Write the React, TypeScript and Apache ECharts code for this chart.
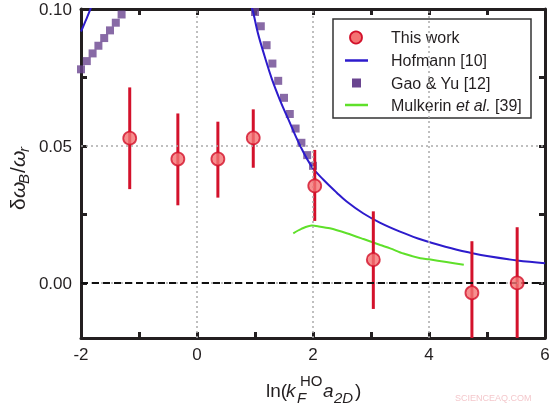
import React, { useEffect, useRef } from "react";
import * as echarts from "echarts";

// ---- Data ----
const pointX = [-1.16, -0.33, 0.36, 0.97, 2.03, 3.04, 4.74, 5.52];
const pointY = [0.0529, 0.0453, 0.0453, 0.053, 0.0355, 0.0086, -0.0035, 0.0001];
const errLow = [0.0343, 0.0284, 0.0312, 0.0421, 0.0227, -0.0094, -0.025, -0.025];
const errHigh = [0.0714, 0.0619, 0.0589, 0.0634, 0.0486, 0.0262, 0.0153, 0.0204];

const hofLeftX = [-2.0, -1.95, -1.9, -1.85, -1.8];
const hofLeftY = [0.0918, 0.0942, 0.0967, 0.0993, 0.1022];
const hofRightX = [0.92, 0.96, 1.05, 1.17, 1.29, 1.43, 1.57, 1.77, 1.98, 2.18, 2.41, 2.58, 2.87, 3.16, 3.5, 3.85, 4.0, 4.48, 4.71, 5.0, 5.52, 6.0];
const hofRightY = [0.1015, 0.0995, 0.0912, 0.0825, 0.0745, 0.0668, 0.06, 0.0505, 0.0425, 0.0377, 0.033, 0.0298, 0.0254, 0.022, 0.0188, 0.016, 0.015, 0.0122, 0.0111, 0.0099, 0.0083, 0.0073];

const gaoX = [-2.0, -1.9, -1.8, -1.7, -1.6, -1.5, -1.4, -1.3, 1.0, 1.1, 1.2, 1.3, 1.4, 1.5, 1.6, 1.7, 1.8, 1.9, 2.0];
const gaoY = [0.078, 0.081, 0.0838, 0.0866, 0.0894, 0.0922, 0.095, 0.098, 0.0989, 0.0937, 0.0868, 0.0801, 0.0738, 0.0676, 0.0617, 0.0564, 0.0512, 0.0467, 0.0428];

const mulX = [1.66, 1.8, 1.98, 2.1, 2.29, 2.58, 2.87, 3.16, 3.33, 3.56, 3.85, 4.0, 4.3, 4.6];
const mulY = [0.0182, 0.0198, 0.021, 0.0207, 0.02, 0.0182, 0.0161, 0.0139, 0.0127, 0.0108, 0.0091, 0.0087, 0.0077, 0.0067];

const xTicks = [-2, -1, 0, 1, 2, 3, 4, 5, 6];
const xLabels = [-2, 0, 2, 4, 6];
const yTicks = [0, 0.025, 0.05, 0.075, 0.1];
const yLabels = [0, 0.05, 0.1];
const gridX = [0, 2, 4];
const gridY = [0, 0.05];

const legendNames = ["This work", "Hofmann [10]", "Gao & Yu [12]", "Mulkerin et al. [39]"];

const FONT = "'Liberation Sans', Arial, sans-serif";
const INK = "#231f20";
const RED = "#d3112b";
const RED_FILL = "#f47373";
const BLUE = "#2d1bcc";
const PURPLE = "#6a4590";
const GREEN = "#5fe02a";

const zip = (a: number[], b: number[]) => a.map((v, i) => [v, b[i]]);

export default function App() {
  const ref = useRef<HTMLDivElement>(null);
  useEffect(() => {
    if (!ref.current) return;
    const chart = echarts.init(ref.current, null, { renderer: "svg" });

    const axisCommon = {
      axisLine: { show: true, onZero: false, lineStyle: { color: INK, width: 3 } },
      splitLine: { show: false },
    };

    const legendX = 333;
    const legendY = 19;
    const rowY = [37.5, 60.5, 83, 105];

    const option: any = {
      animation: false,
      grid: { left: 81, right: 8, top: 9, bottom: 68, containLabel: false },
      xAxis: [
        {
          type: "value",
          min: -2,
          max: 6,
          interval: 1,
          position: "bottom",
          ...axisCommon,
          axisTick: { show: true, inside: true, length: 6, customValues: xTicks, lineStyle: { color: INK, width: 3 } },
          axisLabel: {
            show: true,
            customValues: xLabels,
            color: INK,
            fontSize: 17,
            fontFamily: FONT,
            margin: 8,
            formatter: (v: number) => String(v),
          },
        },
        {
          type: "value",
          min: -2,
          max: 6,
          interval: 1,
          position: "top",
          ...axisCommon,
          axisTick: { show: true, inside: true, length: 6, customValues: xTicks, lineStyle: { color: INK, width: 3 } },
          axisLabel: { show: false },
        },
      ],
      yAxis: [
        {
          type: "value",
          min: -0.02,
          max: 0.1,
          position: "left",
          ...axisCommon,
          axisTick: { show: true, inside: true, length: 6, customValues: yTicks, lineStyle: { color: INK, width: 3 } },
          axisLabel: {
            show: true,
            customValues: yLabels,
            color: INK,
            fontSize: 17,
            fontFamily: FONT,
            margin: 9,
            formatter: (v: number) => v.toFixed(2),
          },
        },
        {
          type: "value",
          min: -0.02,
          max: 0.1,
          position: "right",
          ...axisCommon,
          axisTick: { show: true, inside: true, length: 6, customValues: yTicks, lineStyle: { color: INK, width: 3 } },
          axisLabel: { show: false },
        },
      ],
      series: [
        {
          type: "line",
          name: "grid",
          data: [],
          silent: true,
          z: 1,
          markLine: {
            silent: true,
            symbol: "none",
            label: { show: false },
            animation: false,
            data: [
              ...gridX.map((x) => ({ xAxis: x, lineStyle: { color: "#aaaaaa", type: [2, 3], width: 1.5 } })),
              ...gridY.map((y) => ({ yAxis: y, lineStyle: { color: "#aaaaaa", type: [2, 3], width: 1.5 } })),
              { yAxis: 0, lineStyle: { color: "#111111", type: [7, 4], width: 2 } },
            ],
          },
        },
        {
          type: "scatter",
          name: legendNames[2],
          data: zip(gaoX, gaoY),
          symbol: "rect",
          symbolSize: 8,
          itemStyle: { color: PURPLE },
          z: 2,
        },
        {
          type: "line",
          name: legendNames[1],
          data: zip(hofLeftX, hofLeftY),
          showSymbol: false,
          smooth: 0.3,
          lineStyle: { color: BLUE, width: 2 },
          z: 3,
        },
        {
          type: "line",
          name: legendNames[1] + " ",
          data: zip(hofRightX, hofRightY),
          showSymbol: false,
          smooth: 0.4,
          lineStyle: { color: BLUE, width: 2 },
          z: 3,
        },
        {
          type: "line",
          name: legendNames[3],
          data: zip(mulX, mulY),
          showSymbol: false,
          smooth: 0.3,
          lineStyle: { color: GREEN, width: 2 },
          z: 3,
        },
        {
          type: "custom",
          name: "errors",
          clip: true,
          data: pointX.map((x, i) => [x, errLow[i], errHigh[i]]),
          encode: { x: 0, y: [1, 2] },
          renderItem: (params: any, api: any) => {
            const x = api.value(0);
            const p1 = api.coord([x, api.value(1)]);
            const p2 = api.coord([x, api.value(2)]);
            return {
              type: "line",
              shape: { x1: p1[0], y1: p1[1], x2: p2[0], y2: p2[1] },
              style: { stroke: RED, lineWidth: 3 },
            };
          },
          z: 4,
        },
        {
          type: "scatter",
          name: legendNames[0],
          data: zip(pointX, pointY),
          symbol: "circle",
          symbolSize: 13,
          itemStyle: { color: RED_FILL, borderColor: RED, borderWidth: 1.8 },
          z: 5,
        },
      ],
      graphic: [
        {
          type: "group",
          z: 100,
          children: [
            {
              type: "rect",
              shape: { x: legendX, y: legendY, width: 198, height: 99 },
              style: { fill: "#ffffff", stroke: "#333333", lineWidth: 1.5 },
            },
            { type: "circle", shape: { cx: 356, cy: rowY[0], r: 6 }, style: { fill: RED_FILL, stroke: RED, lineWidth: 1.8 } },
            { type: "line", shape: { x1: 345, y1: rowY[1], x2: 368, y2: rowY[1] }, style: { stroke: BLUE, lineWidth: 2.5 } },
            { type: "rect", shape: { x: 352, y: rowY[2] - 4.5, width: 9, height: 9 }, style: { fill: PURPLE } },
            { type: "line", shape: { x1: 345, y1: rowY[3], x2: 368, y2: rowY[3] }, style: { stroke: GREEN, lineWidth: 2.5 } },
            ...legendNames.slice(0, 3).map((t, i) => ({
              type: "text",
              x: 391,
              y: rowY[i],
              style: { text: t, fontSize: 16, fontFamily: FONT, fill: INK, verticalAlign: "middle" },
            })),
            {
              type: "text",
              x: 391,
              y: rowY[3],
              style: {
                text: "{n|Mulkerin }{i|et al.}{n| [39]}",
                verticalAlign: "middle",
                rich: {
                  n: { fontSize: 16, fontFamily: FONT, fill: INK },
                  i: { fontSize: 16, fontFamily: FONT, fill: INK, fontStyle: "italic" },
                },
              },
            },
          ],
        },
        // x axis title: ln(k_F^HO a_2D)
        {
          type: "group",
          z: 100,
          children: [
            { type: "text", x: 266, y: 390, style: { text: "ln(", fontSize: 19, fontFamily: FONT, fill: INK, verticalAlign: "middle" } },
            { type: "text", x: 286, y: 390, style: { text: "k", fontSize: 19, fontStyle: "italic", fontFamily: FONT, fill: INK, verticalAlign: "middle" } },
            { type: "text", x: 297, y: 397, style: { text: "F", fontSize: 15, fontStyle: "italic", fontFamily: FONT, fill: INK, verticalAlign: "middle" } },
            { type: "text", x: 300, y: 380, style: { text: "HO", fontSize: 15, fontFamily: FONT, fill: INK, verticalAlign: "middle" } },
            { type: "text", x: 323, y: 390, style: { text: "a", fontSize: 19, fontStyle: "italic", fontFamily: FONT, fill: INK, verticalAlign: "middle" } },
            { type: "text", x: 334, y: 397, style: { text: "2D", fontSize: 15, fontStyle: "italic", fontFamily: FONT, fill: INK, verticalAlign: "middle" } },
            { type: "text", x: 355, y: 390, style: { text: ")", fontSize: 19, fontFamily: FONT, fill: INK, verticalAlign: "middle" } },
          ],
        },
        // y axis title: δω_B/ω_r
        {
          type: "group",
          x: 17,
          y: 170,
          rotation: Math.PI / 2,
          z: 100,
          children: [
            { type: "text", x: -40, y: 0, style: { text: "δ", fontSize: 21, fontFamily: FONT, fill: INK, verticalAlign: "middle" } },
            { type: "text", x: -28, y: 0, style: { text: "ω", fontSize: 21, fontStyle: "italic", fontFamily: FONT, fill: INK, verticalAlign: "middle" } },
            { type: "text", x: -14, y: 6, style: { text: "B", fontSize: 15, fontStyle: "italic", fontFamily: FONT, fill: INK, verticalAlign: "middle" } },
            { type: "text", x: -3, y: 0, style: { text: "/", fontSize: 21, fontFamily: FONT, fill: INK, verticalAlign: "middle" } },
            { type: "text", x: 3, y: 0, style: { text: "ω", fontSize: 21, fontStyle: "italic", fontFamily: FONT, fill: INK, verticalAlign: "middle" } },
            { type: "text", x: 18, y: 6, style: { text: "r", fontSize: 15, fontStyle: "italic", fontFamily: FONT, fill: INK, verticalAlign: "middle" } },
          ],
        },
        {
          type: "text",
          x: 455,
          y: 398,
          z: 100,
          style: { text: "SCIENCEAQ.COM", fontSize: 9, fontFamily: FONT, fill: "#f4c8cc", verticalAlign: "middle" },
        },
      ],
    };

    chart.setOption(option);
    return () => chart.dispose();
  }, []);

  return <div ref={ref} style={{ position: "fixed", left: 0, top: 0, width: 553, height: 406 }} />;
}
